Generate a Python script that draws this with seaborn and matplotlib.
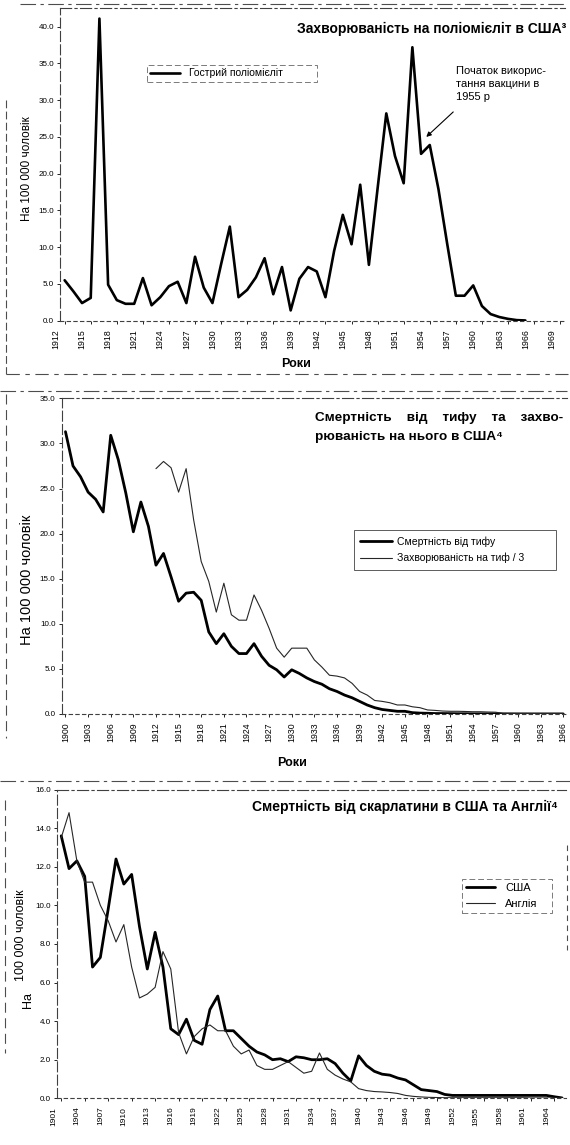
import matplotlib.pyplot as plt
import matplotlib.transforms as mtransforms
from matplotlib.lines import Line2D
import seaborn as sns

sns.set_style("white")
plt.rcParams['font.family'] = ['Liberation Sans', 'DejaVu Sans']
plt.rcParams['text.color'] = 'black'
plt.rcParams['xtick.color'] = 'black'
plt.rcParams['ytick.color'] = 'black'
plt.rcParams['axes.labelcolor'] = 'black'

W, H = 570, 1145

# --- поліомієліт, на 100 000
polio_roky = list(range(1912, 1966))
polio = [5.5, 4.0, 2.4, 3.1, 41.1, 4.9, 2.8, 2.3, 2.3, 5.8,
         2.1, 3.2, 4.7, 5.3, 2.4, 8.7, 4.5, 2.4, 7.7, 12.8,
         3.2, 4.2, 5.9, 8.5, 3.6, 7.3, 1.4, 5.7, 7.3, 6.7,
         3.2, 9.5, 14.4, 10.4, 18.5, 7.6, 18.0, 28.2, 22.4, 18.7,
         37.2, 22.7, 23.9, 17.9, 10.5, 3.4, 3.4, 4.8, 2.0, 0.9,
         0.5, 0.25, 0.08, 0.03]

# --- тиф
tyf_roky = list(range(1900, 1967))
tyf_smert = [31.3, 27.5, 26.3, 24.6, 23.8, 22.4, 30.9, 28.2, 24.5, 20.2,
             23.5, 20.8, 16.5, 17.8, 15.2, 12.5, 13.4, 13.5, 12.6, 9.1,
             7.8, 8.9, 7.5, 6.7, 6.7, 7.8, 6.4, 5.4, 4.9, 4.1,
             4.9, 4.5, 4.0, 3.6, 3.3, 2.8, 2.5, 2.1, 1.8, 1.4,
             1.0, 0.7, 0.5, 0.4, 0.3, 0.3, 0.15, 0.1, 0.08, 0.05,
             0.05, 0.04, 0.03, 0.03, 0.02, 0.02, 0.02, 0.02, 0.01, 0.01,
             0.01, 0.01, 0.01, 0.01, 0.01, 0.01, 0.01]
tyf_zahv_roky = list(range(1912, 1967))
tyf_zahv = [27.2, 28.0, 27.3, 24.6, 27.2, 21.5, 16.9, 14.7,
            11.3, 14.5, 11.0, 10.4, 10.4, 13.2, 11.5, 9.5, 7.3, 6.3,
            7.3, 7.3, 7.3, 6.0, 5.2, 4.3, 4.2, 4.0, 3.4, 2.5,
            2.1, 1.5, 1.4, 1.25, 1.0, 1.0, 0.8, 0.7, 0.45, 0.4,
            0.33, 0.3, 0.3, 0.28, 0.25, 0.25, 0.22, 0.2, 0.08, 0.07,
            0.06, 0.06, 0.05, 0.05, 0.05, 0.05, 0.05]

# --- скарлатина
skarl_roky = list(range(1901, 1966))
skarl_ssha = [13.6, 11.9, 12.3, 11.5, 6.8, 7.3, 9.8, 12.4, 11.1, 11.6,
              8.9, 6.7, 8.6, 6.8, 3.6, 3.3, 4.1, 3.0, 2.8, 4.6,
              5.3, 3.5, 3.5, 3.1, 2.7, 2.4, 2.25, 2.0, 2.05, 1.9,
              2.15, 2.1, 2.0, 2.0, 2.05, 1.8, 1.3, 0.9, 2.2, 1.7,
              1.4, 1.25, 1.2, 1.05, 0.95, 0.7, 0.45, 0.4, 0.35, 0.2,
              0.15, 0.15, 0.15, 0.15, 0.15, 0.15, 0.15, 0.15, 0.15, 0.15,
              0.15, 0.15, 0.15, 0.08, 0.02]
skarl_angl = [13.5, 14.8, 12.3, 11.2, 11.2, 10.0, 9.2, 8.1, 9.0, 6.8,
              5.2, 5.4, 5.75, 7.6, 6.7, 3.4, 2.3, 3.2, 3.6, 3.8,
              3.5, 3.5, 2.7, 2.3, 2.5, 1.7, 1.5, 1.5, 1.7, 1.9,
              1.6, 1.3, 1.4, 2.35, 1.5, 1.2, 1.0, 0.85, 0.5, 0.4,
              0.35, 0.33, 0.3, 0.25, 0.15, 0.1, 0.07, 0.05, 0.04, 0.03,
              0.03, 0.03, 0.03, 0.03, 0.03, 0.03, 0.03, 0.03, 0.03, 0.03,
              0.02, 0.02, 0.02, 0.02, 0.02]

fig = plt.figure(figsize=(W / 100, H / 100), dpi=100)


def osi(left, top, right, bottom):
    # координати в пікселях від верхнього лівого кута
    return fig.add_axes([left / W, 1 - bottom / H, (right - left) / W, (bottom - top) / H])


def shtrykh(x0, y0, x1, y1, ls=(0, (7, 3))):
    fig.add_artist(Line2D([x0 / W, x1 / W], [1 - y0 / H, 1 - y1 / H],
                          transform=fig.transFigure, color='0.3', lw=0.8, linestyle=ls))


def oformyty(ax, xlim, ylim, xticks, yticks, zsuv_px, xsize):
    ax.set_xlim(*xlim)
    ax.set_ylim(*ylim)
    ax.set_xticks(xticks)
    ax.set_xticklabels([str(r) for r in xticks])
    ax.set_yticks(yticks)
    ax.set_yticklabels([f'{v:.1f}' for v in yticks])
    ax.tick_params(axis='x', labelrotation=90, labelsize=xsize, length=2, width=0.6,
                   direction='out', bottom=True, pad=4)
    ax.tick_params(axis='y', labelsize=5.8, length=2.5, width=0.6, direction='out',
                   left=True, pad=2)
    ax.set_xlabel('')
    ax.set_ylabel('')
    ax.spines['right'].set_visible(False)
    ax.spines['left'].set_linestyle((0, (9, 3)))
    ax.spines['bottom'].set_linestyle((0, (3, 3)))
    ax.spines['top'].set_linestyle((0, (10, 3, 2, 3)))
    for s in ['left', 'bottom', 'top']:
        ax.spines[s].set_linewidth(0.8)
        ax.spines[s].set_color('0.25')
    if zsuv_px:
        off = mtransforms.ScaledTranslation(-zsuv_px / 100, 0, fig.dpi_scale_trans)
        for lab in ax.get_xticklabels():
            lab.set_transform(lab.get_transform() + off)


# ---------------- панель 1
ax1 = osi(60.3, 8.3, 564.5, 320.7)
sns.lineplot(x=polio_roky, y=polio, ax=ax1, color='black', lw=1.9,
             label='Гострий поліомієліт')
oformyty(ax1, (1911.5, 1969.5), (0, 42.5), list(range(1912, 1970, 3)),
         [0, 5, 10, 15, 20, 25, 30, 35, 40], 8.7, 6.3)
leg = ax1.legend(loc='center left', bbox_to_anchor=(0.172, 0.7545, 0.337, 0.0736),
                 mode='expand', fontsize=7.5, handlelength=2.9, handletextpad=0.8,
                 borderaxespad=0, frameon=True, fancybox=False, borderpad=0.3)
leg.get_frame().set_linestyle((0, (6, 3)))
leg.get_frame().set_edgecolor('0.35')
leg.get_frame().set_linewidth(0.7)
ax1.text(1.003, 0.935, 'Захворюваність на поліомієліт в США³', transform=ax1.transAxes,
         ha='right', va='center', fontsize=10, fontweight='bold')
ax1.text(1957.0, 34.6, 'Початок викорис-\nтання вакцини в\n1955 р', fontsize=8,
         ha='left', va='top', linespacing=1.35)
ax1.annotate('', xy=(1953.6, 25.0), xytext=(1956.7, 28.4),
             arrowprops=dict(arrowstyle='-|>', color='black', lw=0.8,
                             mutation_scale=7, shrinkA=0, shrinkB=0))
fig.text(26.7 / W, 1 - 169 / H, 'На 100 000 чоловік', rotation=90,
         ha='center', va='center', fontsize=8.5)
fig.text(296 / W, 1 - 364 / H, 'Роки', ha='center', va='center', fontsize=9,
         fontweight='bold')

# ---------------- панель 2
ax2 = osi(61.7, 398.3, 567, 714)
sns.lineplot(x=tyf_roky, y=tyf_smert, ax=ax2, color='black', lw=2.0,
             label='Смертність від тифу')
sns.lineplot(x=tyf_zahv_roky, y=tyf_zahv, ax=ax2, color='0.15', lw=0.8,
             label='Захворюваність на тиф / 3')
oformyty(ax2, (1899.5, 1966.5), (0, 35), list(range(1900, 1967, 3)),
         [0, 5, 10, 15, 20, 25, 30, 35], 0, 6.3)
leg = ax2.legend(loc='center left', bbox_to_anchor=(0.5785, 0.4507, 0.40, 0.1394),
                 mode='expand', fontsize=7.5, handlelength=3.0, handletextpad=0.5,
                 borderaxespad=0, frameon=True, fancybox=False, borderpad=0.6,
                 labelspacing=0.6)
leg.get_frame().set_edgecolor('0.2')
leg.get_frame().set_linewidth(0.7)
fig.text(315 / W, 1 - 418 / H, 'Смертність    від    тифу    та    захво-', ha='left',
         va='center', fontsize=9.7, fontweight='bold')
fig.text(315 / W, 1 - 437 / H, 'рюваність на нього в США⁴', ha='left',
         va='center', fontsize=9.7, fontweight='bold')
fig.text(26.7 / W, 1 - 580 / H, 'На 100 000 чоловік', rotation=90,
         ha='center', va='center', fontsize=10.5)
fig.text(292 / W, 1 - 763 / H, 'Роки', ha='center', va='center', fontsize=9,
         fontweight='bold')

# ---------------- панель 3
ax3 = osi(57.3, 789.5, 566, 1098.3)
sns.lineplot(x=skarl_roky, y=skarl_ssha, ax=ax3, color='black', lw=2.0, label='США')
sns.lineplot(x=skarl_roky, y=skarl_angl, ax=ax3, color='0.15', lw=0.8, label='Англія')
oformyty(ax3, (1900.5, 1965.5), (0, 16), list(range(1901, 1966, 3)),
         [0, 2, 4, 6, 8, 10, 12, 14, 16], 7.8, 6.0)
leg = ax3.legend(loc='center left', bbox_to_anchor=(0.795, 0.588, 0.177, 0.135),
                 mode='expand', fontsize=8, handlelength=2.6, handletextpad=0.9,
                 borderaxespad=0, frameon=True, fancybox=False, borderpad=0.4,
                 labelspacing=0.5)
leg.get_frame().set_linestyle((0, (6, 3)))
leg.get_frame().set_edgecolor('0.35')
leg.get_frame().set_linewidth(0.7)
fig.text(558 / W, 1 - 807 / H, 'Смертність від скарлатини в США та Англії⁴',
         ha='right', va='center', fontsize=10, fontweight='bold')
fig.text(28 / W, 1 - 1000 / H, 'На', rotation=90, ha='center', va='center', fontsize=9)
fig.text(21 / W, 1 - 935 / H, '100 000 чоловік', rotation=90, ha='center',
         va='center', fontsize=9)

# ---------------- рамки зі сканованого документа
shtrykh(20, 4, 566, 4, (0, (14, 4, 3, 4)))
shtrykh(6, 100, 6, 374)
shtrykh(6, 374, 568, 374, (0, (12, 5, 4, 5)))
shtrykh(0, 391, 567, 391, (0, (14, 4, 3, 4)))
shtrykh(6, 394, 6, 738, (0, (9, 5)))
shtrykh(0, 781, 570, 781, (0, (14, 4, 3, 4)))
shtrykh(5, 800, 5, 1053, (0, (9, 5)))
shtrykh(567, 845, 567, 950, (0, (5, 4)))

fig.savefig('out.png', dpi=100)
